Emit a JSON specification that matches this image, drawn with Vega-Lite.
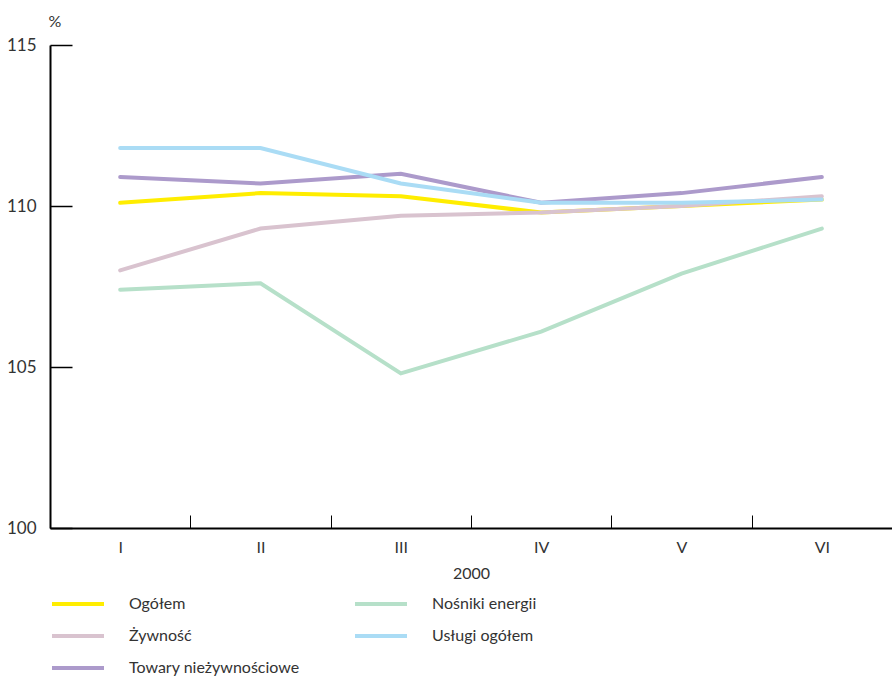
{
  "$schema": "https://vega.github.io/schema/vega-lite/v6.json",
  "autosize": "none",
  "width": 842,
  "height": 483,
  "padding": {"left": 50, "top": 45, "right": 0, "bottom": 150},
  "background": "white",
  "config": {
    "view": {"stroke": null},
    "font": "Lato",
    "axis": {"labelFont": "Lato", "titleFont": "Lato", "labelColor": "#333333", "titleColor": "#333333", "grid": false}
  },
  "data": {
    "values": [
      {"miesiac": "I", "seria": "Ogółem", "wartosc": 110.1},
      {"miesiac": "II", "seria": "Ogółem", "wartosc": 110.4},
      {"miesiac": "III", "seria": "Ogółem", "wartosc": 110.3},
      {"miesiac": "IV", "seria": "Ogółem", "wartosc": 109.8},
      {"miesiac": "V", "seria": "Ogółem", "wartosc": 110.0},
      {"miesiac": "VI", "seria": "Ogółem", "wartosc": 110.2},
      {"miesiac": "I", "seria": "Żywność", "wartosc": 108.0},
      {"miesiac": "II", "seria": "Żywność", "wartosc": 109.3},
      {"miesiac": "III", "seria": "Żywność", "wartosc": 109.7},
      {"miesiac": "IV", "seria": "Żywność", "wartosc": 109.8},
      {"miesiac": "V", "seria": "Żywność", "wartosc": 110.0},
      {"miesiac": "VI", "seria": "Żywność", "wartosc": 110.3},
      {"miesiac": "I", "seria": "Towary nieżywnościowe", "wartosc": 110.9},
      {"miesiac": "II", "seria": "Towary nieżywnościowe", "wartosc": 110.7},
      {"miesiac": "III", "seria": "Towary nieżywnościowe", "wartosc": 111.0},
      {"miesiac": "IV", "seria": "Towary nieżywnościowe", "wartosc": 110.1},
      {"miesiac": "V", "seria": "Towary nieżywnościowe", "wartosc": 110.4},
      {"miesiac": "VI", "seria": "Towary nieżywnościowe", "wartosc": 110.9},
      {"miesiac": "I", "seria": "Nośniki energii", "wartosc": 107.4},
      {"miesiac": "II", "seria": "Nośniki energii", "wartosc": 107.6},
      {"miesiac": "III", "seria": "Nośniki energii", "wartosc": 104.8},
      {"miesiac": "IV", "seria": "Nośniki energii", "wartosc": 106.1},
      {"miesiac": "V", "seria": "Nośniki energii", "wartosc": 107.9},
      {"miesiac": "VI", "seria": "Nośniki energii", "wartosc": 109.3},
      {"miesiac": "I", "seria": "Usługi ogółem", "wartosc": 111.8},
      {"miesiac": "II", "seria": "Usługi ogółem", "wartosc": 111.8},
      {"miesiac": "III", "seria": "Usługi ogółem", "wartosc": 110.7},
      {"miesiac": "IV", "seria": "Usługi ogółem", "wartosc": 110.1},
      {"miesiac": "V", "seria": "Usługi ogółem", "wartosc": 110.1},
      {"miesiac": "VI", "seria": "Usługi ogółem", "wartosc": 110.2}
    ]
  },
  "mark": {"type": "line", "strokeWidth": 4, "strokeCap": "round", "strokeJoin": "miter"},
  "encoding": {
    "x": {
      "field": "miesiac",
      "type": "ordinal",
      "sort": ["I", "II", "III", "IV", "V", "VI"],
      "scale": {"type": "band", "paddingInner": 0, "paddingOuter": 0},
      "axis": {
        "title": "2000",
        "titleFontSize": 16,
        "titleFontWeight": "normal",
        "titlePadding": 10,
        "labelAngle": 0,
        "labelFontSize": 16,
        "labelPadding": 24,
        "tickBand": "extent",
        "tickSize": -13,
        "tickColor": "#000000",
        "tickWidth": 1,
        "domainColor": "#000000",
        "domainWidth": 2
      }
    },
    "y": {
      "field": "wartosc",
      "type": "quantitative",
      "scale": {"domain": [100, 115], "zero": false, "nice": false},
      "axis": {
        "values": [100, 105, 110, 115],
        "title": "%",
        "titleAngle": 0,
        "titleFontSize": 16,
        "titleFontWeight": "normal",
        "titleAlign": "left",
        "titleBaseline": "middle",
        "titleX": -2,
        "titleY": -24,
        "labelFontSize": 17,
        "labelPadding": 36,
        "tickSize": -22,
        "tickColor": "#000000",
        "tickWidth": 1.5,
        "domainColor": "#000000",
        "domainWidth": 2
      }
    },
    "color": {
      "field": "seria",
      "type": "nominal",
      "scale": {
        "domain": ["Ogółem", "Żywność", "Towary nieżywnościowe", "Nośniki energii", "Usługi ogółem"],
        "range": ["#ffed00", "#d9c3cf", "#ac9acb", "#b6e0c9", "#aadcf5"]
      },
      "legend": {
        "orient": "none",
        "legendX": 0,
        "legendY": 549,
        "direction": "vertical",
        "columns": 2,
        "title": null,
        "symbolType": "stroke",
        "symbolSize": 2704,
        "symbolStrokeWidth": 4,
        "labelFontSize": 16,
        "labelColor": "#333333",
        "labelFont": "Lato",
        "labelOffset": 23,
        "clipHeight": 20,
        "columnPadding": 53,
        "rowPadding": 12,
        "labelLimit": 300
      }
    },
    "order": {"field": "seria"}
  }
}
